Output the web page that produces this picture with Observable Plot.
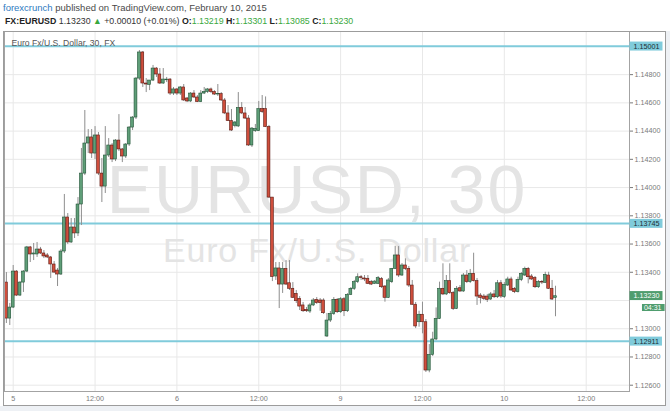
<!DOCTYPE html>
<html>
<head>
<meta charset="utf-8">
<script src="https://cdn.jsdelivr.net/npm/d3@7"></script>
<script src="https://cdn.jsdelivr.net/npm/@observablehq/plot@0.6"></script>
<style>
html,body{margin:0;padding:0;}
body{width:670px;height:411px;background:#eef1f5;position:relative;overflow:hidden;font-family:"Liberation Sans",Arial,sans-serif;}
#head{position:absolute;left:0;top:0;width:670px;height:31px;background:#fff;}
#l1{position:absolute;left:3px;top:2px;font-size:9.5px;color:#4a4a4a;white-space:nowrap;line-height:11px;}
#l2{position:absolute;left:5px;top:16px;font-size:8.8px;color:#333;white-space:nowrap;line-height:11px;}
#l1 .fc{color:#2f7bbf;}
#l2 b{color:#222;}
#l2 .g{color:#3aa83d;}
#panel{position:absolute;left:0;top:31px;width:666px;height:375px;background:#fff;}
#border{position:absolute;left:3px;top:31px;width:661px;height:373px;border:1px solid #9c9c9c;pointer-events:none;}
#chart{position:absolute;left:0;top:31px;}
.wm text{letter-spacing:2px;}
.wm2 text{letter-spacing:0.8px;}
</style>
</head>
<body>
<div id="head"><div id="l1"></div><div id="l2"></div></div>
<div id="panel"></div>
<div id="chart"></div>
<div id="border"></div>
<script>
// ---------- data ----------
const symbol = "FX:EURUSD";
const publisher = "forexcrunch";
const publishedText = " published on TradingView.com, February 10, 2015";
const changeText = "+0.00010 (+0.01%)";
const seriesTitle = "Euro Fx/U.S. Dollar, 30, FX";
const watermarkMain = "EURUSD, 30";
const watermarkSub = "Euro Fx/U.S. Dollar";
const countdown = "04:31";

const xTickSlots = [0, 24, 48, 72, 96, 120, 144, 168];
const xTickLabels = ["5", "12:00", "6", "12:00", "9", "12:00", "10", "12:00"];
// labelled price ticks (1.13200 and 1.15000 are hidden behind tags in the original)
const yTicks = [1.126, 1.128, 1.130, 1.134, 1.136, 1.138, 1.140, 1.142, 1.144, 1.146, 1.148];
const yGrid = [1.126, 1.128, 1.130, 1.132, 1.134, 1.136, 1.138, 1.140, 1.142, 1.144, 1.146, 1.148, 1.150];
const levels = [1.15001, 1.13745, 1.12911];

const firstSlot = -2; // 30-minute bars, slot 0 = Feb 5 00:00

const open = [
1.13327,1.13072,1.13150,1.13405,1.13235,1.13327,1.13405,1.13576,1.13526,1.13526,
1.13561,1.13533,1.13519,1.13505,1.13455,1.13412,1.13384,1.13547,1.13788,1.13611,
1.13717,1.13675,1.13880,1.14099,1.14312,1.14355,1.14241,1.14369,1.14099,1.14007,
1.14227,1.14298,1.14199,1.14333,1.14270,1.14220,1.14305,1.14425,1.14496,1.14772,
1.14957,1.14737,1.14727,1.14758,1.14843,1.14801,1.14737,1.14760,1.14765,1.14666,
1.14695,1.14666,1.14709,1.14631,1.14610,1.14666,1.14638,1.14606,1.14666,1.14677,
1.14695,1.14677,1.14659,1.14662,1.14617,1.14525,1.14471,1.14437,1.14433,1.14564,
1.14525,1.14489,1.14298,1.14400,1.14400,1.14556,1.14556,1.14429,1.13929,1.13370,
1.13427,1.13313,1.13424,1.13322,1.13283,1.13247,1.13212,1.13165,1.13134,1.13122,
1.13165,1.13205,1.13200,1.13200,1.12945,1.13058,1.13105,1.13205,1.13117,1.13209,
1.13124,1.13240,1.13283,1.13330,1.13365,1.13356,1.13354,1.13330,1.13318,1.13318,
1.13351,1.13299,1.13219,1.13330,1.13424,1.13519,1.13377,1.13448,1.13424,1.13306,
1.13170,1.13046,1.13099,1.13046,1.12704,1.12815,1.12924,1.13070,1.13283,1.13243,
1.13337,1.13252,1.13141,1.13287,1.13264,1.13377,1.13330,1.13389,1.13337,1.13235,
1.13228,1.13228,1.13207,1.13243,1.13223,1.13322,1.13226,1.13306,1.13349,1.13283,
1.13259,1.13346,1.13377,1.13424,1.13370,1.13358,1.13294,1.13330,1.13325,1.13377,
1.13283,1.13219];
const high = [
1.13398,1.13179,1.13448,1.13412,1.13334,1.13412,1.13583,1.13583,1.13604,1.13611,
1.13576,1.13554,1.13533,1.13512,1.13476,1.13427,1.13561,1.13951,1.13816,1.13781,
1.13781,1.13929,1.14277,1.14546,1.14411,1.14411,1.14432,1.14390,1.14206,1.14432,
1.14347,1.14312,1.14340,1.14517,1.14277,1.14312,1.14432,1.14503,1.14780,1.14971,
1.14964,1.14772,1.14758,1.14865,1.14850,1.14843,1.14843,1.14780,1.14772,1.14709,
1.14702,1.14716,1.14730,1.14638,1.14673,1.14687,1.14652,1.14687,1.14709,1.14702,
1.14705,1.14687,1.14730,1.14673,1.14631,1.14581,1.14553,1.14468,1.14673,1.14602,
1.14567,1.14510,1.14425,1.14447,1.14610,1.14652,1.14642,1.14440,1.13929,1.13469,
1.13469,1.13469,1.13483,1.13483,1.13327,1.13271,1.13228,1.13186,1.13150,1.13179,
1.13214,1.13221,1.13214,1.13212,1.13108,1.13122,1.13221,1.13214,1.13221,1.13221,
1.13249,1.13292,1.13342,1.13389,1.13377,1.13377,1.13377,1.13342,1.13342,1.13370,
1.13363,1.13306,1.13356,1.13427,1.13584,1.13582,1.13462,1.13495,1.13441,1.13342,
1.13186,1.13124,1.13188,1.13065,1.12888,1.12975,1.13148,1.13330,1.13460,1.13377,
1.13460,1.13264,1.13299,1.13306,1.13391,1.13412,1.13420,1.13535,1.13356,1.13249,
1.13243,1.13243,1.13257,1.13271,1.13342,1.13342,1.13327,1.13365,1.13365,1.13292,
1.13365,1.13398,1.13436,1.13434,1.13384,1.13370,1.13342,1.13342,1.13400,1.13400,
1.13342,1.13301];
const low = [
1.13037,1.13023,1.13143,1.13228,1.13228,1.13257,1.13398,1.13469,1.13483,1.13505,
1.13526,1.13497,1.13497,1.13356,1.13391,1.13299,1.13377,1.13533,1.13597,1.13604,
1.13639,1.13653,1.13731,1.14085,1.14241,1.14206,1.14199,1.14085,1.13894,1.13958,
1.14213,1.14177,1.14184,1.14255,1.14177,1.14206,1.14291,1.14404,1.14482,1.14758,
1.14709,1.14673,1.14687,1.14751,1.14780,1.14730,1.14730,1.14744,1.14652,1.14652,
1.14652,1.14652,1.14610,1.14602,1.14602,1.14631,1.14602,1.14602,1.14659,1.14666,
1.14666,1.14652,1.14645,1.14610,1.14517,1.14468,1.14397,1.14423,1.14425,1.14517,
1.14482,1.14291,1.14284,1.14390,1.14397,1.14525,1.14425,1.13922,1.13334,1.13342,
1.13143,1.13250,1.13306,1.13271,1.13214,1.13179,1.13129,1.13115,1.13115,1.13108,
1.13157,1.13172,1.13124,1.13101,1.12938,1.13044,1.13094,1.13108,1.13108,1.13086,
1.13115,1.13235,1.13271,1.13320,1.13342,1.13334,1.13313,1.13306,1.13313,1.13313,
1.13285,1.13188,1.13214,1.13320,1.13420,1.13363,1.13370,1.13412,1.13292,1.13165,
1.13001,1.13011,1.12964,1.12690,1.12688,1.12803,1.12916,1.13065,1.13235,1.13235,
1.13243,1.13129,1.13136,1.13257,1.13257,1.13320,1.13320,1.13331,1.13165,1.13176,
1.13200,1.13186,1.13200,1.13214,1.13214,1.13214,1.13214,1.13299,1.13264,1.13249,
1.13253,1.13334,1.13370,1.13318,1.13342,1.13285,1.13285,1.13313,1.13320,1.13278,
1.13200,1.13085];
const close = [
1.13072,1.13150,1.13405,1.13235,1.13327,1.13405,1.13576,1.13526,1.13533,1.13561,
1.13533,1.13512,1.13505,1.13455,1.13398,1.13384,1.13547,1.13788,1.13611,1.13717,
1.13675,1.13880,1.14099,1.14312,1.14355,1.14241,1.14369,1.14099,1.14007,1.14227,
1.14298,1.14199,1.14333,1.14270,1.14220,1.14305,1.14425,1.14496,1.14772,1.14957,
1.14737,1.14730,1.14758,1.14843,1.14801,1.14737,1.14765,1.14765,1.14666,1.14695,
1.14666,1.14709,1.14617,1.14610,1.14666,1.14638,1.14606,1.14666,1.14677,1.14695,
1.14677,1.14659,1.14662,1.14617,1.14525,1.14471,1.14404,1.14461,1.14564,1.14525,
1.14489,1.14298,1.14418,1.14415,1.14556,1.14535,1.14429,1.13929,1.13366,1.13427,
1.13313,1.13424,1.13313,1.13283,1.13219,1.13195,1.13157,1.13124,1.13124,1.13165,
1.13200,1.13181,1.13181,1.13110,1.13058,1.13105,1.13205,1.13117,1.13209,1.13124,
1.13240,1.13283,1.13330,1.13365,1.13359,1.13349,1.13318,1.13313,1.13334,1.13358,
1.13294,1.13219,1.13342,1.13424,1.13519,1.13377,1.13448,1.13424,1.13306,1.13170,
1.13016,1.13099,1.13046,1.12704,1.12815,1.12924,1.13070,1.13283,1.13243,1.13337,
1.13252,1.13141,1.13283,1.13264,1.13377,1.13330,1.13389,1.13337,1.13228,1.13219,
1.13212,1.13205,1.13243,1.13223,1.13322,1.13228,1.13311,1.13349,1.13271,1.13259,
1.13346,1.13389,1.13424,1.13365,1.13349,1.13294,1.13330,1.13327,1.13382,1.13283,
1.13207,1.13230];

// ---------- header ----------
const fmt5 = d3.format(".5f");
const last = close.length - 1;
document.getElementById("l1").innerHTML =
  `<span class="fc">${publisher}</span>${publishedText}`;
document.getElementById("l2").innerHTML =
  `<b>${symbol}</b> ${fmt5(close[last])} <span class="g">&#9650;</span> ${changeText} ` +
  `<b>O:</b><span class="g">${fmt5(open[last])}</span> <b>H:</b><span class="g">${fmt5(high[last])}</span> ` +
  `<b>L:</b><span class="g">${fmt5(low[last])}</span> <b>C:</b><span class="g">${fmt5(close[last])}</span>`;

// ---------- chart ----------
const bars = open.map((o, i) => ({
  slot: firstSlot + i, open: o, high: high[i], low: low[i], close: close[i]
}));
const upFill = "#5f9e78", upStroke = "#225437", dnFill = "#cf4e3c", dnStroke = "#5b1a13";
const font = "Liberation Sans, Arial, sans-serif";

const chart = Plot.plot({
  width: 670,
  height: 380,
  marginLeft: 4,
  marginRight: 41,
  marginTop: 0,
  marginBottom: 20,
  style: {background: "transparent", fontFamily: font, overflow: "visible"},
  x: {type: "linear", domain: [-2.55, 180.7], axis: null, label: null},
  y: {domain: [1.125554, 1.151055], axis: null, label: null},
  color: {type: "identity"},
  marks: [
    Plot.gridY(yGrid, {stroke: "#e8e8e8", strokeOpacity: 1}),
    Plot.gridX(xTickSlots, {stroke: "#e8e8e8", strokeOpacity: 1}),
    Plot.text([watermarkMain], {text: d => d, frameAnchor: "middle", lineAnchor: "bottom", dy: 1.5,
      fontSize: 68, fill: "#e4e4e4", className: "wm"}),
    Plot.text([watermarkSub], {text: d => d, frameAnchor: "middle", lineAnchor: "bottom", dy: 50.5,
      fontSize: 34, fill: "#e4e4e4", className: "wm2"}),
    Plot.ruleY(levels, {y: d => d, stroke: "#80cbdb", strokeWidth: 2}),
    Plot.ruleX(bars, {x: "slot", y1: "low", y2: "high", stroke: "#8e8e8e", strokeWidth: 1}),
    Plot.rect(bars, {
      x1: d => d.slot - 0.42, x2: d => d.slot + 0.42,
      y1: "open", y2: "close",
      fill: d => d.close >= d.open ? upFill : dnFill,
      stroke: d => d.close >= d.open ? upStroke : dnStroke,
      strokeWidth: 0.6
    }),
    Plot.text([seriesTitle], {text: d => d, frameAnchor: "top-left", dx: 7, dy: 11.7, lineAnchor: "middle",
      fontSize: 8.6, fill: "#555"}),
    Plot.frame({stroke: "#a3a3a3"}),
    Plot.axisY(yTicks, {anchor: "right", tickSize: 3, tickPadding: 2, tickFormat: fmt5, label: null,
      fontSize: 7.2, color: "#7a7a7a"}),
    Plot.axisX(xTickSlots, {anchor: "bottom", tickSize: 0, tickPadding: 4.5, label: null,
      tickFormat: d => xTickLabels[xTickSlots.indexOf(d)], fontSize: 7.2, color: "#7a7a7a"}),
    Plot.text(levels, {y: d => d, text: fmt5, frameAnchor: "right", textAnchor: "start", dx: 4,
      fontSize: 7.2, fill: "#1d2b33", className: "tag-cyan"}),
    Plot.text([close[last]], {y: d => d, text: fmt5, frameAnchor: "right", textAnchor: "start", dx: 4,
      dy: -0.5, fontSize: 7.2, fill: "#ffffff", className: "tag-green"}),
    Plot.text([close[last]], {y: d => d, text: () => countdown, frameAnchor: "right", textAnchor: "end", dx: 32,
      dy: 11.5, fontSize: 7, fill: "#ffffff", className: "tag-green2"})
  ]
});
document.getElementById("chart").appendChild(chart);

// background boxes behind the price tags
function boxes(cls, color, padL, padR) {
  chart.querySelectorAll(`.${cls} text`).forEach(t => {
    const b = t.getBBox();
    const r = document.createElementNS("http://www.w3.org/2000/svg", "rect");
    r.setAttribute("x", b.x - padL);
    r.setAttribute("y", b.y);
    r.setAttribute("width", b.width + padL + padR);
    r.setAttribute("height", b.height);
    r.setAttribute("fill", color);
    const tr = t.getAttribute("transform");
    if (tr) r.setAttribute("transform", tr);
    t.parentNode.insertBefore(r, t);
  });
}
boxes("tag-cyan", "#80cbdb", 4, 3);
boxes("tag-green", "#4f9d6e", 4, 3);
boxes("tag-green2", "#4f9d6e", 2, 3);
</script>
</body>
</html>
